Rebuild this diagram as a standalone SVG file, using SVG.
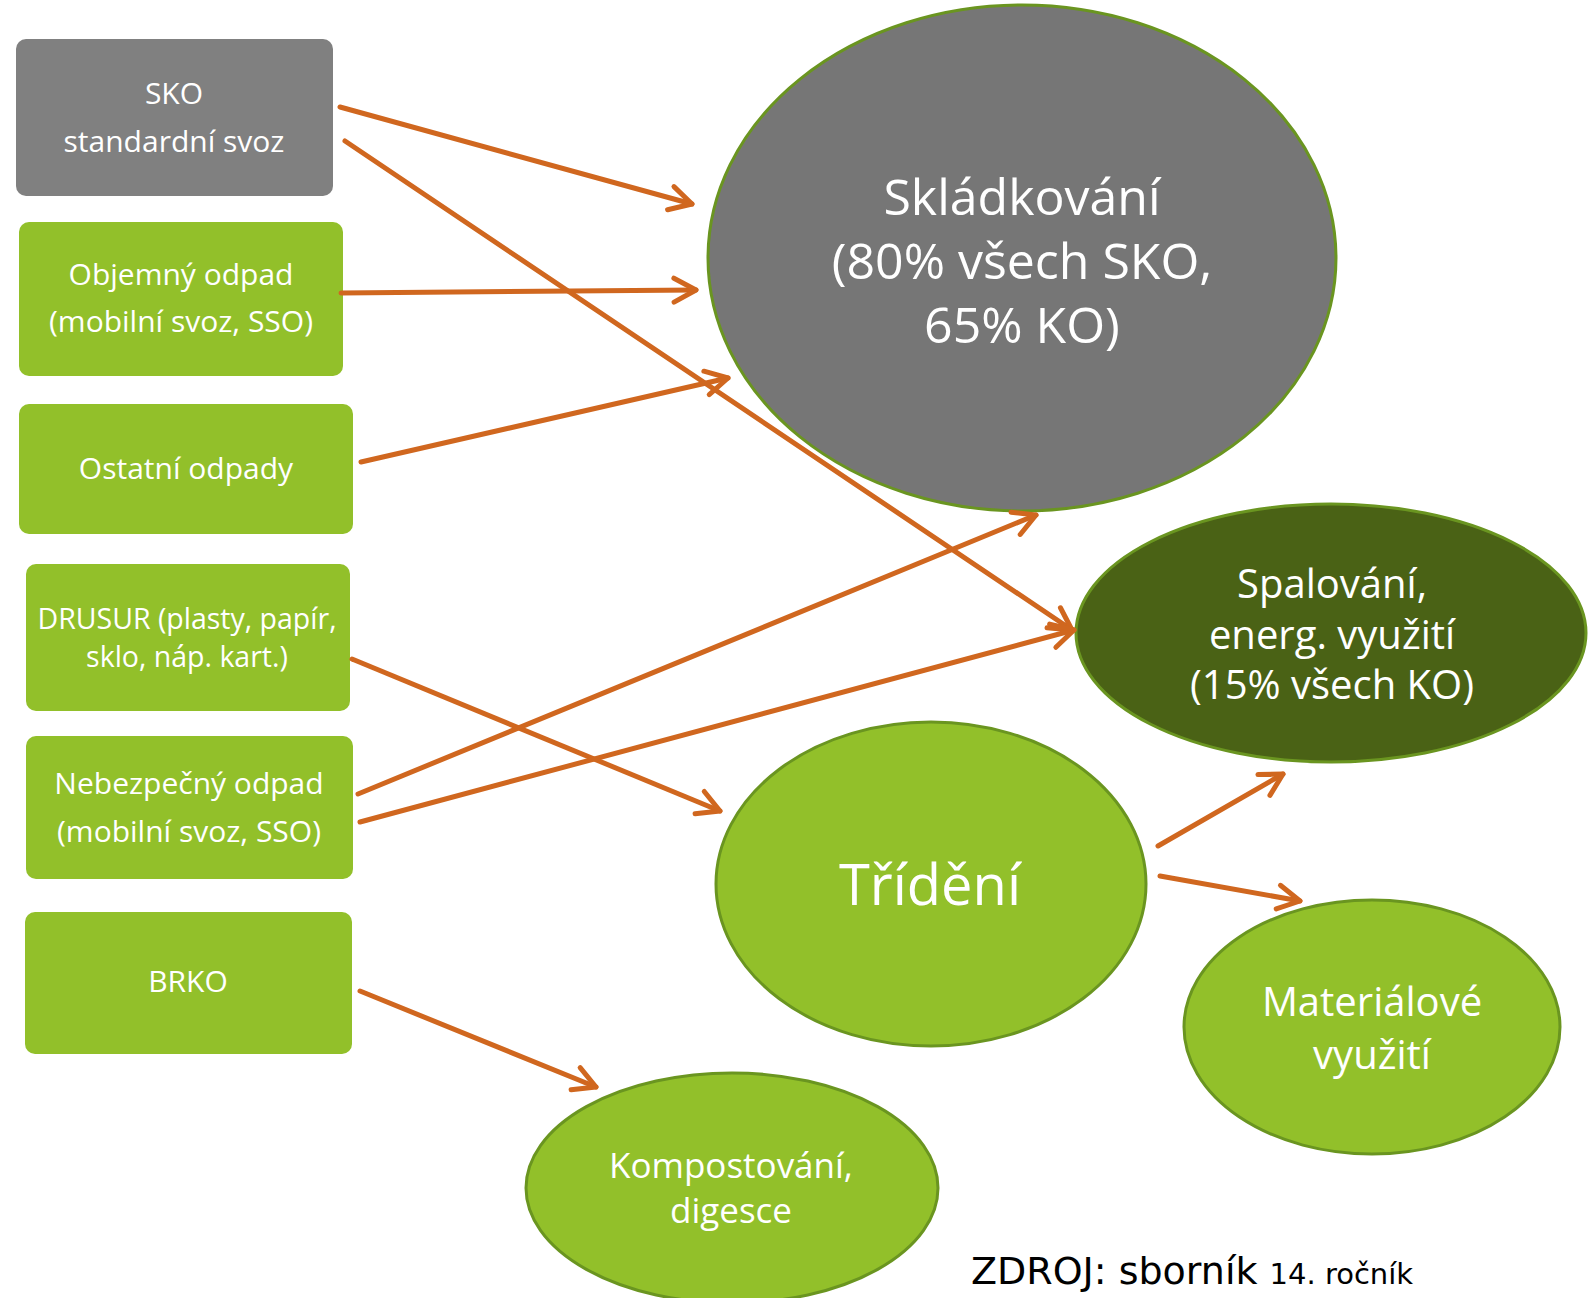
<svg xmlns="http://www.w3.org/2000/svg" width="1589" height="1298" viewBox="0 0 1589 1298">
<defs>
<style>
.box{fill:#92C02A}
.gbox{fill:#808080}
.ell{stroke:#6A9520;stroke-width:3}
.bt{font-family:"Open Sans","Liberation Sans",sans-serif;font-size:30px;fill:#fff;text-anchor:middle}
.et{font-family:"Open Sans","Liberation Sans",sans-serif;fill:#fff;text-anchor:middle}
.con{stroke:#D0671F;stroke-width:5;fill:none;stroke-linecap:round}
</style>
<marker id="ah" viewBox="-30 -20 40 40" refX="0" refY="0" markerWidth="40" markerHeight="40" markerUnits="userSpaceOnUse" orient="auto">
<path d="M-22,-12 L0,0 L-22,12" fill="none" stroke="#D0671F" stroke-width="5" stroke-linecap="round" stroke-linejoin="round"/>
</marker>
</defs>
<rect width="1589" height="1298" fill="#fff"/>

<g id="sko">
<rect class="gbox" x="16" y="39" width="317" height="157" rx="10"/>
<text class="bt" x="174" y="104">SKO</text>
<text class="bt" x="174" y="152">standardní svoz</text>
</g>
<g id="objemny">
<rect class="box" x="19" y="222" width="324" height="154" rx="10"/>
<text class="bt" x="181" y="285">Objemný odpad</text>
<text class="bt" x="181" y="332">(mobilní svoz, SSO)</text>
</g>
<g id="ostatni">
<rect class="box" x="19" y="404" width="334" height="130" rx="10"/>
<text class="bt" x="186" y="479">Ostatní odpady</text>
</g>
<g id="drusur">
<rect class="box" x="26" y="564" width="324" height="147" rx="10"/>
<text class="bt" x="187" y="629" font-size="28" style="font-size:28.5px">DRUSUR (plasty, papír,</text>
<text class="bt" x="187" y="667" style="font-size:28.5px">sklo, náp. kart.)</text>
</g>
<g id="nebezpecny">
<rect class="box" x="26" y="736" width="327" height="143" rx="10"/>
<text class="bt" x="189" y="794">Nebezpečný odpad</text>
<text class="bt" x="189" y="842">(mobilní svoz, SSO)</text>
</g>
<g id="brko">
<rect class="box" x="25" y="912" width="327" height="142" rx="10"/>
<text class="bt" x="188" y="992">BRKO</text>
</g>

<g id="skladkovani">
<ellipse class="ell" cx="1022" cy="258" rx="314" ry="253" fill="#767676"/>
<text class="et" x="1022" y="215" font-size="50">Skládkování</text>
<text class="et" x="1022" y="279" font-size="50">(80% všech SKO,</text>
<text class="et" x="1022" y="343" font-size="50">65% KO)</text>
</g>
<g id="spalovani">
<ellipse class="ell" cx="1331" cy="633" rx="255" ry="129" fill="#4A6215"/>
<text class="et" x="1332" y="598" font-size="40">Spalování,</text>
<text class="et" x="1332" y="649" font-size="40">energ. využití</text>
<text class="et" x="1332" y="699" font-size="40">(15% všech KO)</text>
</g>
<g id="trideni">
<ellipse class="ell" cx="931" cy="884" rx="215" ry="162" fill="#92C02A"/>
<text class="et" x="930" y="905" font-size="56">Třídění</text>
</g>
<g id="materialove">
<ellipse class="ell" cx="1372" cy="1027" rx="188" ry="127" fill="#92C02A"/>
<text class="et" x="1372" y="1016" font-size="40">Materiálové</text>
<text class="et" x="1372" y="1069" font-size="40">využití</text>
</g>
<g id="kompostovani">
<ellipse class="ell" cx="732" cy="1188" rx="206" ry="115" fill="#92C02A"/>
<text class="et" x="731" y="1178" font-size="35">Kompostování,</text>
<text class="et" x="731" y="1223" font-size="35">digesce</text>
</g>

<g id="connectors">
<line class="con" x1="340" y1="107" x2="692" y2="204" marker-end="url(#ah)"/>
<line class="con" x1="345" y1="141" x2="1072" y2="630" marker-end="url(#ah)"/>
<line class="con" x1="341" y1="293" x2="696" y2="290" marker-end="url(#ah)"/>
<line class="con" x1="361" y1="462" x2="728" y2="378" marker-end="url(#ah)"/>
<line class="con" x1="352" y1="659" x2="720" y2="811" marker-end="url(#ah)"/>
<line class="con" x1="358" y1="794" x2="1036" y2="515" marker-end="url(#ah)"/>
<line class="con" x1="360" y1="822" x2="1074" y2="630" marker-end="url(#ah)"/>
<line class="con" x1="1158" y1="846" x2="1283" y2="774" marker-end="url(#ah)"/>
<line class="con" x1="1160" y1="876" x2="1300" y2="901" marker-end="url(#ah)"/>
<line class="con" x1="360" y1="991" x2="596" y2="1087" marker-end="url(#ah)"/>
</g>

<text x="971" y="1284" font-family="'DejaVu Sans','Liberation Sans',sans-serif" font-size="38" fill="#000">ZDROJ: sborník <tspan font-size="29">14. ročník</tspan></text>
</svg>
